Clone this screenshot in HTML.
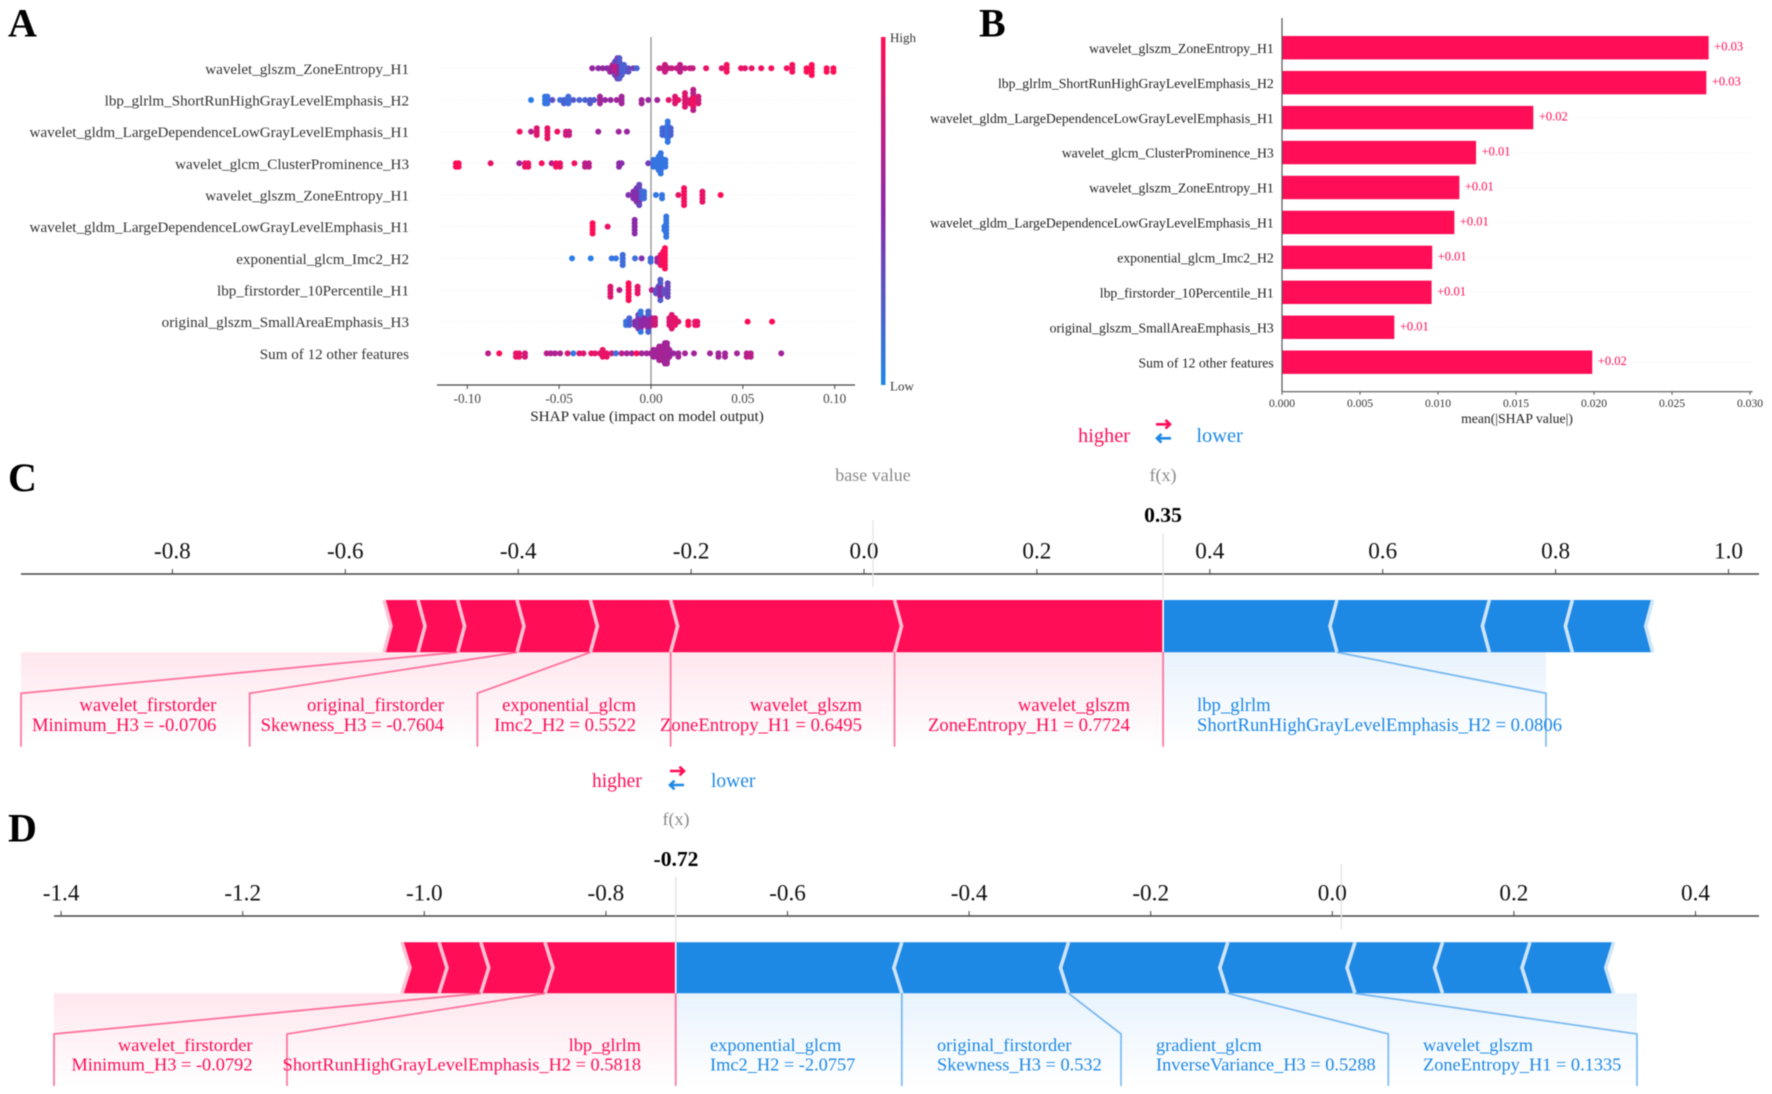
<!DOCTYPE html>
<html lang="en">
<head>
<meta charset="utf-8">
<title>SHAP summary and force plots</title>
<style>
html,body{margin:0;padding:0;background:#fff;width:1772px;height:1094px;overflow:hidden}
svg{display:block;font-family:"Liberation Serif","Times New Roman",serif;filter:blur(0.5px)}
.lab-red{fill:#ff0d57;font-size:18.7px}
.lab-blue{fill:#1e88e5;font-size:18.7px}
.lab-d{font-size:18.35px}
.letter{font-size:40px;font-weight:bold;fill:#000}
.leg{font-size:20.4px}
.arrow{fill:none;stroke-width:2.6}
.fx{font-size:18px;fill:#888}
.val{font-size:21.6px;font-weight:bold;fill:#000}
</style>
</head>
<body>
<svg id="fig" width="1772" height="1094" viewBox="0 0 1772 1094" xmlns="http://www.w3.org/2000/svg">
  <defs>
    <linearGradient id="cbar" x1="0" y1="0" x2="0" y2="1">
      <stop offset="0" stop-color="#ff0d57"/>
      <stop offset="0.5" stop-color="#8a2aa8"/>
      <stop offset="1" stop-color="#1e88e5"/>
    </linearGradient>
    <linearGradient id="shadeRed" x1="0" y1="0" x2="0" y2="1">
      <stop offset="0" stop-color="#ff0d57" stop-opacity="0.1"/>
      <stop offset="1" stop-color="#ff0d57" stop-opacity="0"/>
    </linearGradient>
    <linearGradient id="shadeBlue" x1="0" y1="0" x2="0" y2="1">
      <stop offset="0" stop-color="#1e88e5" stop-opacity="0.1"/>
      <stop offset="1" stop-color="#1e88e5" stop-opacity="0"/>
    </linearGradient>
  </defs>

  <g id="panelA"></g>
  <g id="panelB"></g>
  <g id="panelC"></g>
  <g id="panelD"></g>

  <text class="letter" x="8" y="36.5">A</text>
  <text class="letter" x="979" y="36.5">B</text>
  <text class="letter" x="8" y="491">C</text>
  <text class="letter" x="8" y="841.5">D</text>

  <!-- Panel A static -->
  <rect x="881" y="37" width="4.5" height="348" fill="url(#cbar)"/>
  <text x="890" y="42" font-size="13" fill="#333">High</text>
  <text x="890" y="390.5" font-size="13" fill="#333">Low</text>
  <text x="647" y="421" font-size="15.2" fill="#222" text-anchor="middle">SHAP value (impact on model output)</text>

  <!-- Panel B static -->
  <text x="1517" y="423" font-size="13.7" fill="#222" text-anchor="middle">mean(|SHAP value|)</text>

  <!-- Panel C legend -->
  <text class="leg" x="1078" y="442" fill="#ff0d57">higher</text>
  <path class="arrow" d="M1156 424.3H1170M1165.5 420l4.5 4.3l-4.5 4.3" stroke="#ff0d57"/>
  <path class="arrow" d="M1171 438.3H1157M1161.5 434l-4.5 4.3l4.5 4.3" stroke="#1e88e5"/>
  <text class="leg" x="1196.4" y="442" fill="#1e88e5">lower</text>
  <text class="fx" x="873" y="481" text-anchor="middle">base value</text>
  <text class="fx" x="1163" y="481" text-anchor="middle">f(x)</text>
  <text class="val" x="1163" y="522" text-anchor="middle">0.35</text>

  <text class="lab-red" x="216.4" y="711" text-anchor="end">wavelet_firstorder</text>
  <text class="lab-red" x="216.4" y="731" text-anchor="end">Minimum_H3 = -0.0706</text>
  <text class="lab-red" x="444" y="711" text-anchor="end">original_firstorder</text>
  <text class="lab-red" x="444" y="731" text-anchor="end">Skewness_H3 = -0.7604</text>
  <text class="lab-red" x="636" y="711" text-anchor="end">exponential_glcm</text>
  <text class="lab-red" x="636" y="731" text-anchor="end">Imc2_H2 = 0.5522</text>
  <text class="lab-red" x="862" y="711" text-anchor="end">wavelet_glszm</text>
  <text class="lab-red" x="862" y="731" text-anchor="end">ZoneEntropy_H1 = 0.6495</text>
  <text class="lab-red" x="1130" y="711" text-anchor="end">wavelet_glszm</text>
  <text class="lab-red" x="1130" y="731" text-anchor="end">ZoneEntropy_H1 = 0.7724</text>
  <text class="lab-blue" x="1197" y="711">lbp_glrlm</text>
  <text class="lab-blue" x="1197" y="731">ShortRunHighGrayLevelEmphasis_H2 = 0.0806</text>

  <!-- Panel D legend -->
  <text x="592" y="787" fill="#ff0d57" font-size="19.5">higher</text>
  <path class="arrow" d="M670 771H684M679.5 766.7l4.5 4.3l-4.5 4.3" stroke="#ff0d57"/>
  <path class="arrow" d="M684 785H670M674.5 780.7l-4.5 4.3l4.5 4.3" stroke="#1e88e5"/>
  <text x="711" y="787" fill="#1e88e5" font-size="19.5">lower</text>
  <text class="fx" x="676" y="825" text-anchor="middle">f(x)</text>
  <text class="val" x="676" y="866" text-anchor="middle">-0.72</text>

  <text class="lab-red lab-d" x="252.5" y="1051" text-anchor="end">wavelet_firstorder</text>
  <text class="lab-red lab-d" x="252.5" y="1070.5" text-anchor="end">Minimum_H3 = -0.0792</text>
  <text class="lab-red lab-d" x="641" y="1051" text-anchor="end">lbp_glrlm</text>
  <text class="lab-red lab-d" x="641" y="1070.5" text-anchor="end">ShortRunHighGrayLevelEmphasis_H2 = 0.5818</text>
  <text class="lab-blue lab-d" x="710" y="1051">exponential_glcm</text>
  <text class="lab-blue lab-d" x="710" y="1070.5">Imc2_H2 = -2.0757</text>
  <text class="lab-blue lab-d" x="937" y="1051">original_firstorder</text>
  <text class="lab-blue lab-d" x="937" y="1070.5">Skewness_H3 = 0.532</text>
  <text class="lab-blue lab-d" x="1156" y="1051">gradient_glcm</text>
  <text class="lab-blue lab-d" x="1156" y="1070.5">InverseVariance_H3 = 0.5288</text>
  <text class="lab-blue lab-d" x="1423" y="1051">wavelet_glszm</text>
  <text class="lab-blue lab-d" x="1423" y="1070.5">ZoneEntropy_H1 = 0.1335</text>
</svg>

<script>
const featureNames = [
  "wavelet_glszm_ZoneEntropy_H1",
  "lbp_glrlm_ShortRunHighGrayLevelEmphasis_H2",
  "wavelet_gldm_LargeDependenceLowGrayLevelEmphasis_H1",
  "wavelet_glcm_ClusterProminence_H3",
  "wavelet_glszm_ZoneEntropy_H1",
  "wavelet_gldm_LargeDependenceLowGrayLevelEmphasis_H1",
  "exponential_glcm_Imc2_H2",
  "lbp_firstorder_10Percentile_H1",
  "original_glszm_SmallAreaEmphasis_H3",
  "Sum of 12 other features"
];

/* Panel A: SHAP value, number of samples stacked there, feature-value tone (0 low - 1 high) */
const swarmShap = [
  [-.032,-.0287,-.0263,-.024,-.0223,-.0209,-.0196,-.0196,-.0183,-.0183,-.0172,-.0172,-.016,-.0147,-.0123,-.0096,-.0078,.0045,.0064,.0076,.0094,.0113,.014,.0158,.0185,.0212,.0227,.03,.0385,.0412,.049,.0512,.0548,.06,.0655,.0739,.0769,.0847,.0875,.0956,.0993],
  [-.0653,-.0577,-.0564,-.0537,-.0495,-.0474,-.045,-.0423,-.039,-.0359,-.0332,-.031,-.0278,-.025,-.022,-.0187,-.016,-.0051,-.0015,.0034,.0096,.0131,.0149,.0185,.0212,.023,.023,.0258],
  [-.0715,-.0653,-.0622,-.0564,-.051,-.0463,-.0446,-.0287,-.0176,-.0131,.0062,.0076,.0091,.0107],
  [-.1062,-.1047,-.0873,-.0717,-.0686,-.0668,-.0595,-.0541,-.0517,-.0495,-.0417,-.0359,-.0338,-.0174,-.016,-.0015,.0013,.0027,.0042,.0053,.0067,.0078],
  [-.0123,-.0096,-.0078,-.0064,-.0064,-.0051,-.0038,.0027,.006,.0149,.018,.028,.0379],
  [-.0318,-.0236,-.0089,.0073,.0083],
  [-.043,-.0328,-.0214,-.0191,-.0154,-.0087,-.0051,-.0002,.0034,.0053,.0067,.0076],
  [-.0221,-.0172,-.0122,-.0073,.0004,.0027,.004,.0051,.0051,.0071,.0091],
  [-.0136,-.0118,-.0087,-.0069,-.0056,-.0056,-.0038,-.0015,-.0015,.0004,.0022,.01,.0113,.0131,.0149,.0203,.024,.0252,.0526,.0659],
  [-.0887,-.0826,-.0735,-.0718,-.0686,-.0568,-.0546,-.0523,-.0495,-.0454,-.0423,-.039,-.0368,-.0325,-.0305,-.0278,-.0263,-.0241,-.0214,-.0191,-.016,-.0132,-.0105,-.0078,-.0051,-.0024,-.0002,.0013,.0031,.0045,.0062,.0076,.0087,.01,.0122,.0149,.0185,.0234,.0321,.0367,.0403,.0468,.0521,.0543,.0709]
];
const swarmCount = [
  [1,1,1,1,2,3,3,2,4,3,4,3,4,3,2,1,1,1,1,3,1,1,1,3,1,1,1,1,1,3,1,1,1,1,1,1,3,2,4,2,2],
  [1,3,3,1,1,2,3,1,1,1,2,1,3,1,1,1,3,2,1,1,1,3,1,5,2,4,3,3],
  [1,1,3,4,1,2,2,1,1,1,3,3,7,3],
  [2,2,1,1,2,2,1,1,2,2,1,2,2,2,1,1,3,3,5,7,3,3],
  [1,3,5,4,3,3,3,1,2,1,6,4,1],
  [4,1,5,2,7],
  [1,1,1,1,4,1,1,2,2,4,5,7],
  [4,1,6,3,1,2,3,4,3,2,5],
  [2,3,2,5,4,3,3,4,3,3,3,3,5,3,1,2,2,2,1,1],
  [1,1,2,2,2,1,1,1,1,1,1,1,1,1,1,1,3,2,1,1,1,1,1,1,1,1,1,3,3,5,5,7,7,3,1,2,1,1,1,2,2,1,2,2,1]
];
const swarmTone = [
  [.55,.5,.55,.5,.55,.6,.7,.3,.75,.4,.5,.25,.25,.2,.3,.4,.2,.75,.75,.75,.75,.75,.75,.7,.75,.75,.75,.9,.85,.95,.9,.9,.9,.95,.95,.95,.95,1,1,1,1],
  [.05,.1,.1,.3,.15,.2,.15,.25,.2,.2,.25,.25,.6,.55,.55,.6,.6,.6,.55,.6,.9,.85,.9,.85,.85,.95,.7,.8],
  [.95,.7,.85,.9,.95,.8,.75,.6,.6,.55,.15,.2,.1,.2],
  [1,1,.9,.6,.9,.9,.95,.7,.95,.9,.95,.7,.7,.5,.5,.4,.1,.1,.1,.1,.1,.1],
  [.45,.5,.45,.5,.35,.2,.15,.1,.1,.9,.95,.9,1],
  [1,.9,.5,.1,.1],
  [.05,.05,.1,.1,.15,.15,.45,.15,.6,.9,.95,1],
  [.85,.7,1,.9,.7,.3,.3,.5,.25,.3,.35],
  [.1,.2,.5,.4,.55,.1,.5,.55,.2,.6,.8,.85,.85,.9,.85,1,.9,.9,1,1],
  [.7,1,.9,.9,.8,.7,.65,.65,.65,.85,.1,.85,.85,.9,.9,.85,.9,.9,.8,.15,.7,.6,.6,1,.6,.6,.6,.6,.6,.6,.65,.6,.6,.6,.55,.6,.6,.6,.6,.6,.6,.6,.7,.7,.6]
];
const swarmTicks = [-0.10, -0.05, 0.00, 0.05, 0.10];
const swarmTickLabels = ["-0.10", "-0.05", "0.00", "0.05", "0.10"];

/* Panel B */
const meanShapValues = [.02735, .0272, .01611, .01244, .01137, .01105, .00963, .00959, .0072, .01989];
const meanShapLabels = ["+0.03", "+0.03", "+0.02", "+0.01", "+0.01", "+0.01", "+0.01", "+0.01", "+0.01", "+0.02"];
const barTicks = [0, .005, .01, .015, .02, .025, .03];
const barTickLabels = ["0.000", "0.005", "0.010", "0.015", "0.020", "0.025", "0.030"];

/* Panel C */
const forceCValue = 0.346;
const forceCBase = 0.0104;
const forceCRedEffects = [.3107, .259, .0928, .0849, .0687, .0458, .0393];
const forceCBlueEffects = [.2011, .1763, .096, .0929];
const forceCTicks = [-.8, -.6, -.4, -.2, 0, .2, .4, .6, .8, 1];
const forceCTickLabels = ["-0.8", "-0.6", "-0.4", "-0.2", "0.0", "0.2", "0.4", "0.6", "0.8", "1.0"];

/* Panel D */
const forceDValue = -0.7231;
const forceDBase = 0.01;
const forceDRedEffects = [.144, .0707, .046, .0408];
const forceDBlueEffects = [.249, .1836, .1754, .1401, .0964, .0963, .0922];
const forceDTicks = [-1.4, -1.2, -1, -.8, -.6, -.4, -.2, 0, .2, .4];
const forceDTickLabels = ["-1.4", "-1.2", "-1.0", "-0.8", "-0.6", "-0.4", "-0.2", "0.0", "0.2", "0.4"];

const NS = "http://www.w3.org/2000/svg";
function mk(tag, parent, attrs) {
  const e = document.createElementNS(NS, tag);
  for (const k in attrs) e.setAttribute(k, attrs[k]);
  parent.appendChild(e);
  return e;
}
function mix(a, b, t) {
  return a.map((c, i) => Math.round(c + (b[i] - c) * t));
}
function toneColor(t) {
  const blue = [30, 136, 240], mid = [138, 42, 168], red = [255, 13, 87];
  const c = t < .5 ? mix(blue, mid, t * 2) : mix(mid, red, (t - .5) * 2);
  return "rgb(" + c.join(",") + ")";
}

/* ---------- Panel A ---------- */
(function () {
  const g = document.getElementById("panelA");
  const xA = v => 651 + v * 1837;
  const yA = i => 68.3 + i * 31.67;
  const axisY = 385;
  featureNames.forEach((name, i) => {
    const grid = mk("line", g, {x1: 437, x2: 855, y1: yA(i), y2: yA(i), stroke: "#eee", "stroke-width": 1, "stroke-dasharray": "1 2"});
    
    
    const t = mk("text", g, {x: 409, y: yA(i) + 5.5, "text-anchor": "end", "font-size": 15.1, fill: "#333"});
    t.textContent = name;
    
    
  });
  const zero = mk("line", g, {x1: xA(0), x2: xA(0), y1: 37, y2: axisY, stroke: "#999", "stroke-width": 1.4});
  
  
  swarmShap.forEach((vals, r) => {
    const stack = {};
    vals.forEach((v, i) => {
      const n = swarmCount[r][i] ?? 1;
      const tone = swarmTone[r][i] ?? .5;
      for (let k = 0; k < n; k++) {
        const key = v.toFixed(4);
        const level = stack[key] || 0;
        stack[key] = level + 1;
        const off = (level % 2 ? 1 : -1) * Math.ceil(level / 2) * 3.4;
        const c = mk("circle", g, {cx: xA(v), cy: yA(r) + off, r: 3, fill: toneColor(tone)});
        
        
      }
    });
  });
  const ax = mk("line", g, {x1: 437, x2: 855, y1: axisY, y2: axisY, stroke: "#444", "stroke-width": 1.3});
  
  
  swarmTicks.forEach((v, i) => {
    const tk = mk("line", g, {x1: xA(v), x2: xA(v), y1: axisY, y2: axisY + 4, stroke: "#444", "stroke-width": 1});
    
    
    const t = mk("text", g, {x: xA(v), y: 403, "text-anchor": "middle", "font-size": 13.2, fill: "#444"});
    t.textContent = swarmTickLabels[i];
    
    
  });
})();

/* ---------- Panel B ---------- */
(function () {
  const g = document.getElementById("panelB");
  const xB = v => 1282 + v * 15600;
  const yB = i => 47.7 + i * 34.945;
  const axisY = 391.7;
  featureNames.forEach((name, i) => {
    const grid = mk("line", g, {x1: 1282, x2: 1752, y1: yB(i), y2: yB(i), stroke: "#eee", "stroke-width": 1, "stroke-dasharray": "1 2"});
    
    
    const b = mk("rect", g, {x: xB(0), y: yB(i) - 11.7, width: xB(meanShapValues[i]) - xB(0), height: 23.4, fill: "#ff0d57"});
    
    
    const t = mk("text", g, {x: 1273.7, y: yB(i) + 5.2, "text-anchor": "end", "font-size": 13.68, fill: "#222"});
    t.textContent = name;
    
    
    const lbl = mk("text", g, {x: xB(meanShapValues[i]) + 5.5, y: yB(i) + 3, "font-size": 12.5, fill: "#ff0d57"});
    lbl.textContent = meanShapLabels[i];
    
    
  });
  const vax = mk("line", g, {x1: 1282, x2: 1282, y1: 18, y2: axisY, stroke: "#555", "stroke-width": 1.2});
  
  
  const ax = mk("line", g, {x1: 1282, x2: 1752.6, y1: axisY, y2: axisY, stroke: "#555", "stroke-width": 1.2});
  
  
  barTicks.forEach((v, i) => {
    const tk = mk("line", g, {x1: xB(v), x2: xB(v), y1: axisY, y2: axisY + 3, stroke: "#555", "stroke-width": 1});
    
    
    const t = mk("text", g, {x: xB(v), y: 407, "text-anchor": "middle", "font-size": 11.6, fill: "#333"});
    t.textContent = barTickLabels[i];
    
    
  });
})();

/* ---------- Force plots ---------- */
function drawForce(g, o) {
  const x = o.scale;
  const RED = "#ff0d57", BLUE = "#1e88e5";
  const mid = (o.top + o.bot) / 2;
  /* boundaries walking away from f(x) */
  const redEdges = [o.value];
  o.red.forEach(e => redEdges.push(redEdges[redEdges.length - 1] - e));
  const blueEdges = [o.value];
  o.blue.forEach(e => blueEdges.push(blueEdges[blueEdges.length - 1] + e));
  const fxX = x(o.value);

  /* shading below the bar */
  const sr = mk("rect", g, {x: o.shadeLeft, y: o.bot, width: fxX - o.shadeLeft, height: o.labelBot - o.bot, fill: "url(#shadeRed)"});
  
  
  const sb = mk("rect", g, {x: fxX, y: o.bot, width: o.shadeRight - fxX, height: o.labelBot - o.bot, fill: "url(#shadeBlue)"});
  
  

  /* axis */
  const ax = mk("line", g, {x1: o.axisL, x2: o.axisR, y1: o.axisY, y2: o.axisY, stroke: "#444", "stroke-width": 1.6});
  
  
  o.ticks.forEach((v, i) => {
    const tk = mk("line", g, {x1: x(v), x2: x(v), y1: o.axisY - 5, y2: o.axisY, stroke: "#444", "stroke-width": 1});
    
    
    const t = mk("text", g, {x: x(v), y: o.axisY - 15.5, "text-anchor": "middle", "font-size": 23.2, fill: "#111"});
    t.textContent = o.tickLabels[i];
    
    
  });

  /* reference lines */
  const bl = mk("line", g, {x1: x(o.base), x2: x(o.base), y1: o.baseTop, y2: o.axisY + 13, stroke: "#e4e4e4", "stroke-width": 1.4});
  
  
  const fl = mk("line", g, {x1: fxX, x2: fxX, y1: o.fxTop, y2: o.top, stroke: "#e4e4e4", "stroke-width": 1.4});
  
  

  /* segments */
  const n = o.notch;
  for (let i = 0; i < o.red.length; i++) {
    const xr = x(redEdges[i]), xl = x(redEdges[i + 1]);
    const tipR = i === 0 ? 0 : n;
    const pts = [[xl, o.top], [xr, o.top], [xr + tipR, mid], [xr, o.bot], [xl, o.bot], [xl + n, mid]];
    const p = mk("polygon", g, {points: pts.map(q => q.join(",")).join(" "), fill: RED});
    
    
  }
  for (let i = 0; i < o.red.length; i++) {
    const xl = x(redEdges[i + 1]);
    const sep = mk("polyline", g, {points: xl + "," + o.top + " " + (xl + n) + "," + mid + " " + xl + "," + o.bot, fill: "none", stroke: "#ffc2d4", "stroke-width": 3.6});
    
    
  }
  for (let i = 0; i < o.blue.length; i++) {
    const xl = x(blueEdges[i]), xr = x(blueEdges[i + 1]);
    const tipL = i === 0 ? 0 : n;
    const pts = [[xl, o.top], [xr, o.top], [xr - n, mid], [xr, o.bot], [xl, o.bot], [xl - tipL, mid]];
    const p = mk("polygon", g, {points: pts.map(q => q.join(",")).join(" "), fill: BLUE});
    
    
  }
  for (let i = 0; i < o.blue.length; i++) {
    const xr = x(blueEdges[i + 1]);
    const sep = mk("polyline", g, {points: xr + "," + o.top + " " + (xr - n) + "," + mid + " " + xr + "," + o.bot, fill: "none", stroke: "#cfe5f9", "stroke-width": 3.6});
    
    
  }
  const div = mk("line", g, {x1: fxX, x2: fxX, y1: o.top, y2: o.bot, stroke: "#fff", "stroke-width": 1.6});
  
  

  /* connectors: edge on the bar, then label x */
  function connector(edgeX, labelX, colour) {
    const pts = labelX === null
      ? edgeX + "," + o.bot + " " + edgeX + "," + o.labelBot
      : edgeX + "," + o.bot + " " + labelX + "," + o.kink + " " + labelX + "," + o.labelBot;
    const c = mk("polyline", g, {points: pts, fill: "none", stroke: colour, "stroke-width": 1.8, "stroke-opacity": 0.55});
    
    
  }
  o.connect(connector, i => x(redEdges[i]), i => x(blueEdges[i]), RED, BLUE);
}

drawForce(document.getElementById("panelC"), {
  scale: v => 864 + v * 864.5,
  value: forceCValue, base: forceCBase,
  red: forceCRedEffects, blue: forceCBlueEffects,
  ticks: forceCTicks, tickLabels: forceCTickLabels,
  axisY: 574, axisL: 21, axisR: 1759,
  top: 600, bot: 652.3, notch: 7,
  shadeLeft: 21, shadeRight: 1546,
  kink: 693.3, labelBot: 746.7,
  baseTop: 520, fxTop: 533,
  connect: function (link, redAt, blueAt, R, B) {
    link(redAt(0), null, R);
    link(redAt(1), null, R);
    link(redAt(2), null, R);
    link(redAt(3), 477.4, R);
    link(redAt(4), 249.7, R);
    link(redAt(5), 21, R);
    link(blueAt(1), 1546, B);
  }
});

drawForce(document.getElementById("panelD"), {
  scale: v => 1332.3 + v * 908,
  value: forceDValue, base: forceDBase,
  red: forceDRedEffects, blue: forceDBlueEffects,
  ticks: forceDTicks, tickLabels: forceDTickLabels,
  axisY: 916, axisL: 54, axisR: 1759,
  top: 942.3, bot: 993.3, notch: 8,
  shadeLeft: 54, shadeRight: 1637,
  kink: 1034, labelBot: 1086,
  baseTop: 864, fxTop: 877,
  connect: function (link, redAt, blueAt, R, B) {
    link(redAt(0), null, R);
    link(redAt(1), 287, R);
    link(redAt(2), 54, R);
    link(blueAt(1), null, B);
    link(blueAt(2), 1121, B);
    link(blueAt(3), 1388.3, B);
    link(blueAt(4), 1637, B);
  }
});
</script>
</body>
</html>
